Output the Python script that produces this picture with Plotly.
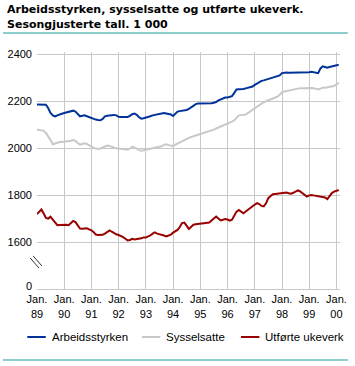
import pandas as pd
import plotly.graph_objects as go

# ---------------- data (1000 persons / weeks), monthly Jan 1989 - Feb 2000 ----------------
series_names = ["Arbeidsstyrken", "Sysselsatte", "Utførte ukeverk"]
series_colors = ["#003399", "#c8c8c8", "#990000"]

arbeidsstyrken = [
    2186, 2186, 2186, 2186, 2185, 2170, 2150, 2140, 2136, 2140, 2145, 2147,
    2150, 2152, 2156, 2158, 2160, 2156, 2148, 2136, 2138, 2140, 2136, 2132,
    2128, 2126, 2122, 2120, 2119, 2125, 2136, 2138, 2140, 2141, 2142, 2140,
    2134, 2133, 2133, 2133, 2133, 2138, 2145, 2148, 2142, 2132, 2126, 2128,
    2130, 2132, 2136, 2140, 2142, 2146, 2148, 2149, 2150, 2148, 2146, 2144,
    2137, 2148, 2156, 2158, 2159, 2160, 2163, 2168, 2176, 2184, 2188, 2190,
    2190, 2190, 2190, 2191, 2191, 2192, 2194, 2197, 2204, 2209, 2214, 2216,
    2216, 2218, 2222, 2236, 2250, 2251, 2251, 2252, 2255, 2258, 2260, 2263,
    2270, 2276, 2282, 2287, 2289, 2292, 2294, 2298, 2302, 2304, 2306, 2310,
    2320, 2323, 2323, 2322, 2322, 2323, 2323, 2323, 2323, 2323, 2323, 2323,
    2324, 2326, 2324, 2322, 2320, 2340, 2349, 2346, 2343, 2346, 2349, 2351,
    2355, 2356,
]
sysselsatte = [
    2080, 2079, 2077, 2074, 2065, 2051, 2035, 2017, 2020, 2025, 2026, 2026,
    2027, 2028, 2030, 2032, 2035, 2031, 2022, 2015, 2018, 2021, 2018, 2012,
    2004, 2001, 1999, 1997, 1999, 2003, 2008, 2011, 2010, 2005, 2002, 2000,
    1998, 1996, 1995, 1995, 1995, 1998, 2007, 2004, 1998, 1992, 1989, 1991,
    1993, 1995, 1997, 1999, 2002, 2004, 2005, 2008, 2014, 2017, 2013, 2010,
    2009, 2015, 2020, 2025, 2030, 2036, 2039, 2044, 2048, 2051, 2053, 2057,
    2060, 2063, 2066, 2069, 2071, 2074, 2079, 2084, 2088, 2095, 2098, 2100,
    2104, 2108, 2113, 2119, 2130, 2140, 2141, 2142, 2143, 2150, 2157, 2162,
    2168, 2178, 2184, 2190, 2196, 2200, 2205, 2208, 2212, 2216, 2220, 2228,
    2238, 2242, 2244, 2246, 2248, 2251, 2254, 2256, 2256, 2255, 2256, 2256,
    2256, 2257, 2256, 2253, 2250, 2254, 2258, 2258, 2260, 2262, 2263, 2265,
    2272, 2278,
]
ukeverk = [
    1719, 1728, 1739, 1722, 1703, 1700, 1708, 1696, 1682, 1672, 1673, 1674,
    1675, 1674, 1672, 1680, 1690, 1685, 1672, 1658, 1657, 1659, 1659, 1654,
    1650, 1642, 1632, 1630, 1629, 1631, 1636, 1645, 1650, 1644, 1637, 1633,
    1630, 1626, 1621, 1614, 1607, 1609, 1614, 1611, 1612, 1615, 1616, 1620,
    1620, 1624, 1628, 1636, 1641, 1636, 1634, 1632, 1628, 1624, 1628, 1632,
    1640, 1647, 1652, 1664, 1681, 1683, 1668, 1656, 1665, 1674, 1676, 1677,
    1678, 1678, 1678, 1680, 1683, 1692, 1702, 1709, 1700, 1692, 1695, 1698,
    1696, 1691, 1695, 1712, 1730, 1737, 1728, 1723, 1730, 1738, 1745, 1752,
    1760, 1766, 1762, 1754, 1752, 1765, 1787, 1796, 1804, 1805, 1806, 1806,
    1806, 1808, 1811, 1808, 1806, 1810, 1815, 1820, 1816, 1808, 1798, 1794,
    1799, 1801, 1799, 1797, 1797, 1795, 1794, 1790, 1783, 1795, 1809, 1815,
    1820, 1822,
]
months = pd.date_range("1989-01-01", periods=len(arbeidsstyrken), freq="MS")

tick_years = ["89", "90", "91", "92", "93", "94", "95", "96", "97", "98", "99", "00"]
tick_dates = pd.date_range("1989-01-01", periods=len(tick_years), freq="YS")
tick_text_x = ["Jan.<br>" + y for y in tick_years]

# the axis is broken: the bottom gridline stands for 0
y_tickvals = [1600, 1800, 2000, 2200, 2400]
y_ticktext = ["1600", "1800", "2000", "2200", "2400"]
y_zero_label = "0"

title_lines = ["Arbeidsstyrken, sysselsatte og utførte ukeverk.",
               "Sesongjusterte tall. 1 000"]

# ---------------- layout geometry (pixels) ----------------
W, H = 355, 366
L, R, T, B = 35, 8, 52, 77
PW, PH = W - L - R, H - T - B
Y0, Y1 = 1400, 2410
FONT = "Liberation Sans, Arial, sans-serif"
TFONT = "DejaVu Sans, Verdana, sans-serif"
TEAL = "#1a9999"
GRID = "#c8c8c8"


def px_x(px):
    return (px - L) / PW


def px_y(py):
    return (H - B - py) / PH


def py_val(py):
    return Y0 + (H - B - py) * (Y1 - Y0) / PH


fig = go.Figure()
for name, vals, col in zip(series_names, [arbeidsstyrken, sysselsatte, ukeverk], series_colors):
    fig.add_trace(go.Scatter(x=months, y=vals, mode="lines", name=name,
                             line=dict(color=col, width=2), showlegend=False))

shapes = []
annotations = []

# title
for i, t in enumerate(title_lines):
    annotations.append(dict(text="<b>" + t + "</b>", xref="paper", yref="paper",
                            x=px_x(2), y=px_y(1 + 15 * i), xanchor="left", yanchor="top",
                            showarrow=False, font=dict(family=TFONT, size=11, color="#000")))
# teal rules
for py in (33, 360):
    shapes.append(dict(type="line", xref="paper", yref="paper", x0=px_x(0), x1=px_x(W),
                       y0=px_y(py), y1=px_y(py), line=dict(color=TEAL, width=1), layer="above"))

# zero label of the broken axis
annotations.append(dict(text=y_zero_label, xref="paper", yref="paper", x=px_x(31.5),
                        y=px_y(285.5), xanchor="right", yanchor="middle", showarrow=False,
                        font=dict(family=FONT, size=11, color="#000")))

# axis break: gap in y axis + double slash
shapes.append(dict(type="rect", xref="paper", yref="y", x0=px_x(33), x1=px_x(37),
                   y0=py_val(275), y1=py_val(252), fillcolor="white", line=dict(width=0),
                   layer="above"))
for dx in (0, 3):
    shapes.append(dict(type="line", xref="paper", yref="y", x0=px_x(28 + dx), x1=px_x(37 + dx),
                       y0=py_val(258 - dx * 0.7), y1=py_val(268 - dx * 0.7),
                       line=dict(color="#333333", width=1), layer="above"))

# legend
leg_x = [25, 143, 245]
for name, col, x0 in zip(series_names, series_colors, leg_x):
    shapes.append(dict(type="line", xref="paper", yref="paper", x0=px_x(x0), x1=px_x(x0 + 19),
                       y0=px_y(337), y1=px_y(337), line=dict(color=col, width=2)))
    annotations.append(dict(text=name, xref="paper", yref="paper", x=px_x(x0 + 23), y=px_y(337),
                            xanchor="left", yanchor="middle", showarrow=False,
                            font=dict(family=FONT, size=11.5, color="#000")))

fig.update_layout(
    width=W, height=H, margin=dict(l=L, r=R, t=T, b=B, pad=0),
    paper_bgcolor="white", plot_bgcolor="white",
    font=dict(family=FONT, size=11, color="#000"),
    shapes=shapes, annotations=annotations, showlegend=False,
)
fig.update_xaxes(range=["1989-01-01", "2000-02-18"], tickvals=tick_dates, ticktext=tick_text_x,
                 showgrid=True, gridcolor=GRID, gridwidth=1, showline=True, linecolor=GRID,
                 linewidth=1, ticks="", zeroline=False, tickfont=dict(size=11))
fig.update_yaxes(range=[Y0, Y1], tickvals=y_tickvals, ticktext=y_ticktext, showgrid=True,
                 gridcolor=GRID, gridwidth=1, showline=False, ticks="", zeroline=False,
                 ticklabelstandoff=4, tickfont=dict(size=11))

fig.write_html("out.html", config={"displayModeBar": False},
               post_script="document.body.style.margin='0';document.body.style.padding='0';")
